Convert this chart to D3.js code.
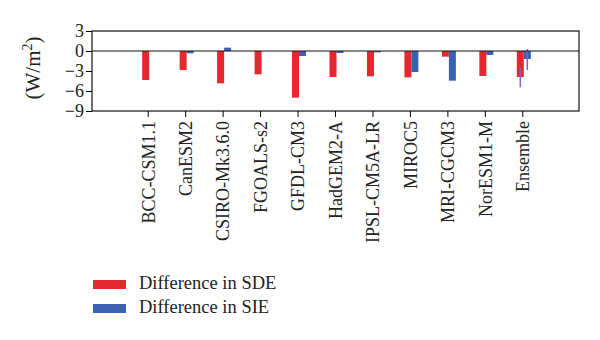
<!DOCTYPE html>
<html>
<head>
<meta charset="utf-8">
<script src="https://cdn.jsdelivr.net/npm/d3@7"></script>
<style>
  body { margin: 0; background: #fff; }
  text { font-family: "Liberation Serif", "DejaVu Serif", serif; fill: #222; }
</style>
</head>
<body>
<div id="chart"></div>
<script>
// data
const models = ["BCC-CSM1.1", "CanESM2", "CSIRO-Mk3.6.0", "FGOALS-s2", "GFDL-CM3", "HadGEM2-A",
  "IPSL-CM5A-LR", "MIROC5", "MRI-CGCM3", "NorESM1-M", "Ensemble"];
const sde = [-4.35, -2.85, -4.85, -3.5, -7.0, -3.9, -3.8, -3.95, -0.85, -3.75, -3.9];
const sie = [0, -0.35, 0.5, 0, -0.75, -0.3, -0.2, -3.15, -4.45, -0.6, -1.2];
// ensemble spread (lo, hi)
const sdeErr = [-5.45, -2.45];
const sieErr = [-2.85, 0.3];
const yTicks = [3, 0, -3, -6, -9];
const legendLabels = ["Difference in SDE", "Difference in SIE"];
const colors = ["#e3292e", "#3a62b0"];

const W = 600, H = 340;
const margin = {top: 31, right: 21, left: 92};
const plotH = 80;
const plotW = W - margin.left - margin.right;

const svg = d3.select("#chart").append("svg")
  .attr("width", W).attr("height", H);

const g = svg.append("g")
  .attr("transform", `translate(${margin.left}, ${margin.top})`);

// 13 slots, first and last empty
const slot = plotW / 13;
const x = d3.scaleBand()
  .domain(models)
  .range([slot, plotW - slot])
  .padding(0);

const y = d3.scaleLinear()
  .domain([-9, 3])
  .range([plotH, 0]);

const barW = 7;

// bars
g.selectAll(".sde")
  .data(models)
  .join("rect")
  .attr("x", (d) => x(d) + x.bandwidth() / 2 - barW + 1)
  .attr("width", barW)
  .attr("y", (d, i) => y(Math.max(0, sde[i])))
  .attr("height", (d, i) => Math.abs(y(sde[i]) - y(0)))
  .attr("fill", colors[0]);

g.selectAll(".sie")
  .data(models)
  .join("rect")
  .attr("x", (d) => x(d) + x.bandwidth() / 2 + 1)
  .attr("width", barW)
  .attr("y", (d, i) => y(Math.max(0, sie[i])))
  .attr("height", (d, i) => Math.abs(y(sie[i]) - y(0)))
  .attr("fill", colors[1]);

// ensemble error bars
const ens = x("Ensemble") + x.bandwidth() / 2;
[[sdeErr, ens - barW / 2 + 1], [sieErr, ens + barW / 2 + 1]].forEach(([e, cx]) => {
  g.append("line")
    .attr("x1", cx).attr("x2", cx)
    .attr("y1", y(e[0])).attr("y2", y(e[1]))
    .attr("stroke", "#8d5cc4").attr("stroke-width", 1.5);
});

// zero line
g.append("line")
  .attr("x1", 0).attr("x2", plotW)
  .attr("y1", y(0)).attr("y2", y(0))
  .attr("stroke", "#111").attr("stroke-width", 1);

// frame
g.append("rect")
  .attr("width", plotW).attr("height", plotH)
  .attr("fill", "none").attr("stroke", "#111").attr("stroke-width", 1.2);

// y axis
const yAxis = g.append("g")
  .call(d3.axisLeft(y).tickValues(yTicks).tickSize(6).tickFormat((d) => d < 0 ? "\u2212" + Math.abs(d) : d));
yAxis.select(".domain").remove();
yAxis.selectAll("text")
  .attr("x", -8)
  .style("font-size", "18px")
  .style("font-family", "Liberation Serif");

// x axis
const xAxis = g.append("g")
  .attr("transform", `translate(0, ${plotH})`)
  .call(d3.axisBottom(x).tickSize(6));
xAxis.select(".domain").remove();
xAxis.selectAll("text")
  .attr("transform", "rotate(-90)")
  .attr("x", -10)
  .attr("y", 0)
  .attr("dy", "0.35em")
  .style("text-anchor", "end")
  .style("font-size", "18px")
  .style("font-family", "Liberation Serif");

// y label
svg.append("text")
  .attr("transform", "translate(40, 68) rotate(-90)")
  .attr("text-anchor", "middle")
  .style("font-size", "21px")
  .html('(W/m<tspan dy="-8" style="font-size:14px">2</tspan><tspan dy="8">)</tspan>');

// legend
const legend = svg.append("g").attr("transform", "translate(93, 280)");
legendLabels.forEach((t, i) => {
  legend.append("rect")
    .attr("x", 0).attr("y", i * 24)
    .attr("width", 33).attr("height", 9)
    .attr("fill", colors[i]);
  legend.append("text")
    .attr("x", 46).attr("y", i * 24 + 8.5)
    .style("font-size", "18.5px")
    .text(t);
});
</script>
</body>
</html>
